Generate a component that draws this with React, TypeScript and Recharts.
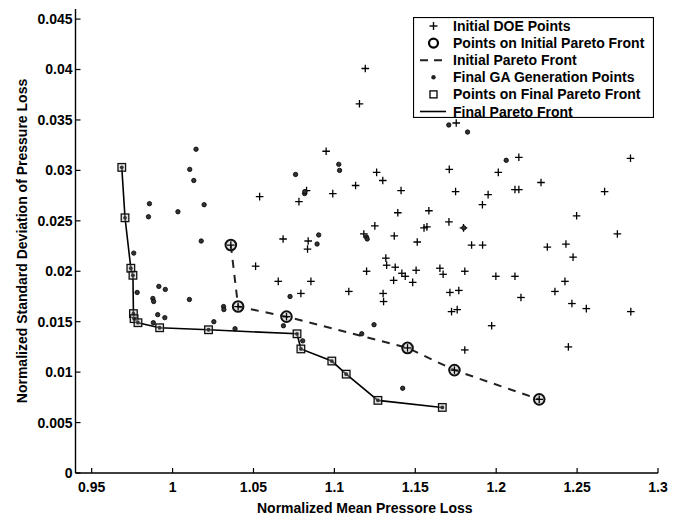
import React from 'react';
import { ScatterChart, Scatter, XAxis, YAxis, Label } from 'recharts';

const FONT = '"Liberation Sans", Arial, Helvetica, sans-serif';

const xTicks = [0.95, 1, 1.05, 1.1, 1.15, 1.2, 1.25, 1.3];
const yTicks = [0, 0.005, 0.01, 0.015, 0.02, 0.025, 0.03, 0.035, 0.04, 0.045];
const xDomain = [0.94, 1.3];
const yDomain = [0, 0.046];

const xLabel = 'Normalized Mean Pressore Loss';
const yLabel = 'Normalized Standard Deviation of Pressure Loss';

const legendLabels = [
  'Initial DOE Points',
  'Points on Initial Pareto Front',
  'Initial Pareto Front',
  'Final GA Generation Points',
  'Points on Final Pareto Front',
  'Final Pareto Front',
];

// Initial DOE points (+)
const doePoints: [number, number][] = [
  [1.1191, 0.0401], [1.1155, 0.0366], [1.0949, 0.0319], [1.2140, 0.0313], [1.2830, 0.0312],
  [1.1710, 0.0301], [1.2013, 0.0298], [1.1261, 0.0298], [1.1299, 0.0290], [1.2277, 0.0288],
  [1.1131, 0.0285], [1.1412, 0.0280], [1.1749, 0.0279], [1.2116, 0.0281], [1.2140, 0.0281],
  [1.0828, 0.0280], [1.0990, 0.0277], [1.0781, 0.0269], [1.1950, 0.0276], [1.1915, 0.0266],
  [1.2670, 0.0279], [1.0538, 0.0274], [1.1584, 0.0260], [1.1392, 0.0258], [1.2497, 0.0255],
  [1.1250, 0.0245], [1.1708, 0.0249], [1.1554, 0.0243], [1.1572, 0.0244], [1.1798, 0.0243],
  [1.1182, 0.0237], [1.1370, 0.0235], [1.2749, 0.0237], [1.0683, 0.0232], [1.0838, 0.0230],
  [1.0834, 0.0222], [1.1512, 0.0229], [1.1848, 0.0226], [1.1916, 0.0226], [1.2431, 0.0227],
  [1.2316, 0.0224], [1.2475, 0.0214], [1.1318, 0.0213], [1.1323, 0.0206], [1.1376, 0.0204],
  [1.0513, 0.0205], [1.1417, 0.0198], [1.1438, 0.0195], [1.1505, 0.0201], [1.1652, 0.0203],
  [1.1672, 0.0197], [1.1199, 0.0200], [1.1806, 0.0200], [1.1366, 0.0191], [1.1484, 0.0189],
  [1.1998, 0.0195], [1.2116, 0.0195], [1.2425, 0.0190], [1.0653, 0.0190], [1.0855, 0.0190],
  [1.1089, 0.0180], [1.0793, 0.0178], [1.1301, 0.0178], [1.1304, 0.0170], [1.1714, 0.0179],
  [1.1769, 0.0181], [1.2363, 0.0180], [1.2153, 0.0174], [1.2468, 0.0168], [1.2557, 0.0163],
  [1.2832, 0.0160], [1.1724, 0.0160], [1.1759, 0.0162], [1.1972, 0.0146], [1.1806, 0.0122],
  [1.2446, 0.0125], [1.1753, 0.0347],
];

// Points on initial Pareto front (O), also DOE points
const initialFront: [number, number][] = [
  [1.0360, 0.0226], [1.0405, 0.0165], [1.0704, 0.0155], [1.1452, 0.0124], [1.1742, 0.0102], [1.2266, 0.0073],
];

// Final GA generation points (.)
const gaPoints: [number, number][] = [
  [1.0145, 0.0321], [1.0106, 0.0301], [1.0131, 0.0290], [0.9857, 0.0267], [0.9851, 0.0254],
  [1.0033, 0.0259], [1.0195, 0.0266], [1.0177, 0.0230], [0.9760, 0.0218], [0.9781, 0.0179],
  [0.9915, 0.0185], [0.9955, 0.0182], [0.9878, 0.0173], [0.9883, 0.0170], [1.0104, 0.0172],
  [0.9908, 0.0157], [0.9952, 0.0154], [0.9881, 0.0149], [1.0315, 0.0165], [1.0317, 0.0162],
  [1.0255, 0.0150], [1.0386, 0.0143], [1.0726, 0.0175], [1.0760, 0.0296], [1.0816, 0.0277],
  [1.0818, 0.0279], [1.0903, 0.0236], [1.0893, 0.0227], [1.1027, 0.0306], [1.1032, 0.0300],
  [1.0685, 0.0146], [1.0804, 0.0131], [1.1169, 0.0138], [1.1245, 0.0147], [1.1422, 0.0084],
  [1.1198, 0.0234], [1.1203, 0.0232], [1.2062, 0.0310], [1.1707, 0.0345], [1.1823, 0.0338],
  [1.1800, 0.0243],
];

// Points on final Pareto front (square), also GA points
const finalFront: [number, number][] = [
  [0.9686, 0.0303], [0.9706, 0.0253], [0.9742, 0.0203], [0.9755, 0.0196], [0.9758, 0.0158],
  [0.9762, 0.0153], [0.9786, 0.0149], [0.9920, 0.0144], [1.0222, 0.0142], [1.0769, 0.0138],
  [1.0793, 0.0123], [1.0984, 0.0111], [1.1073, 0.0098], [1.1269, 0.0072], [1.1667, 0.0065],
];

const toXY = (arr: [number, number][]) => arr.map(([x, y]) => ({ x, y }));

const Plus = ({ cx, cy }: any) => (
  <g stroke="#000" strokeWidth={1.3}>
    <line x1={cx - 3.8} y1={cy} x2={cx + 3.8} y2={cy} />
    <line x1={cx} y1={cy - 3.8} x2={cx} y2={cy + 3.8} />
  </g>
);

const CircleMark = ({ cx, cy }: any) => (
  <g>
    <circle cx={cx} cy={cy} r={5.3} fill="#aaa" fillOpacity={0.35} stroke="#111" strokeWidth={2} />
    <Plus cx={cx} cy={cy} />
  </g>
);

const Dot = ({ cx, cy }: any) => (
  <circle cx={cx} cy={cy} r={2.2} fill="#333" stroke="#000" strokeWidth={0.8} />
);

const SquareMark = ({ cx, cy }: any) => (
  <g>
    <rect x={cx - 3.8} y={cy - 3.8} width={7.6} height={7.6} fill="#bbb" fillOpacity={0.4} stroke="#111" strokeWidth={1.3} />
    <circle cx={cx} cy={cy} r={1.9} fill="#333" />
  </g>
);

const Nothing = () => <g />;

const LegendBox = () => {
  const W = 241;
  const H = 101;
  const rowY = (i: number) => 9 + i * 17.1;
  const sx = 20.5;
  return (
    <svg width={W} height={H} style={{ position: 'absolute', left: 413, top: 17, display: 'block' }}>
      <rect x={0.5} y={0.5} width={W - 1} height={H - 1} fill="#fff" stroke="#000" strokeWidth={1.2} />
      <g stroke="#000" strokeWidth={1.4}>
        <line x1={sx - 4} y1={rowY(0)} x2={sx + 4} y2={rowY(0)} />
        <line x1={sx} y1={rowY(0) - 4} x2={sx} y2={rowY(0) + 4} />
      </g>
      <circle cx={sx} cy={rowY(1)} r={4.5} fill="none" stroke="#000" strokeWidth={2.2} />
      <line x1={7} y1={rowY(2)} x2={33} y2={rowY(2)} stroke="#222" strokeWidth={2} strokeDasharray="8 6" />
      <circle cx={sx} cy={rowY(3)} r={2.2} fill="#222" />
      <rect x={sx - 3.5} y={rowY(4) - 3.5} width={7} height={7} fill="none" stroke="#000" strokeWidth={1.3} />
      <line x1={7} y1={rowY(5)} x2={33} y2={rowY(5)} stroke="#000" strokeWidth={1.6} />
      {legendLabels.map((t, i) => (
        <text key={t} x={40} y={rowY(i)} dominantBaseline="central" fontFamily={FONT} fontWeight="bold" fontSize={14} fill="#000">
          {t}
        </text>
      ))}
    </svg>
  );
};

const YLabelContent = (props: any) => {
  const vb = props.viewBox || { x: 0, y: 9, width: 76, height: 464 };
  const cy = vb.y + vb.height / 2;
  const cx = 22;
  return (
    <text x={cx} y={cy} transform={`rotate(-90, ${cx}, ${cy})`} textAnchor="middle" dominantBaseline="central"
      fontFamily={FONT} fontWeight="bold" fontSize={14} fill="#000">
      {yLabel}
    </text>
  );
};

const XLabelContent = (props: any) => {
  const vb = props.viewBox || { x: 76, y: 473, width: 582, height: 44 };
  const cx = vb.x + vb.width / 2 - 2;
  return (
    <text x={cx} y={508} textAnchor="middle" dominantBaseline="central"
      fontFamily={FONT} fontWeight="bold" fontSize={14} fill="#000">
      {xLabel}
    </text>
  );
};

const tickStyle = { fontFamily: FONT, fontWeight: 'bold', fontSize: 14, fill: '#000' } as any;
const blank = () => '';

export default function App() {
  return (
    <div style={{ position: 'absolute', left: 0, top: 0, width: 682, height: 517, background: '#fff' }}>
      <ScatterChart width={682} height={517} margin={{ top: 9, right: 24, bottom: 0, left: 0 }}>
        <XAxis xAxisId={0} type="number" dataKey="x" domain={xDomain} ticks={xTicks} allowDataOverflow
          orientation="bottom" height={44} tickSize={-5} tickMargin={14} tick={tickStyle}
          axisLine={{ stroke: '#000', strokeWidth: 1.4 }} tickLine={{ stroke: '#000', strokeWidth: 1.2 }} interval={0}>
          <Label content={XLabelContent} />
        </XAxis>
        <XAxis xAxisId="top" type="number" dataKey="x" domain={xDomain} ticks={xTicks} allowDataOverflow
          orientation="top" height={0} tickSize={-5} tickFormatter={blank} tick={tickStyle}
          axisLine={{ stroke: '#000', strokeWidth: 1.4 }} tickLine={{ stroke: '#000', strokeWidth: 1.2 }} interval={0} />
        <YAxis yAxisId={0} type="number" dataKey="y" domain={yDomain} ticks={yTicks} allowDataOverflow
          orientation="left" width={75.5} tickSize={-5} tickMargin={8} tick={tickStyle}
          axisLine={{ stroke: '#000', strokeWidth: 1.4 }} tickLine={{ stroke: '#000', strokeWidth: 1.2 }} interval={0}>
          <Label content={YLabelContent} />
        </YAxis>
        <YAxis yAxisId="right" type="number" dataKey="y" domain={yDomain} ticks={yTicks} allowDataOverflow
          orientation="right" width={0} tickSize={-5} tickFormatter={blank} tick={tickStyle}
          axisLine={{ stroke: '#000', strokeWidth: 1.4 }} tickLine={{ stroke: '#000', strokeWidth: 1.2 }} interval={0} />
        <Scatter xAxisId="top" yAxisId="right" data={toXY(finalFront)} shape={Nothing} isAnimationActive={false} legendType="none" />
        <Scatter name="Initial DOE Points" data={toXY(doePoints)} shape={Plus} isAnimationActive={false} />
        <Scatter name="Initial Pareto Front" data={toXY(initialFront)} shape={CircleMark}
          line={{ stroke: '#222', strokeWidth: 2, strokeDasharray: '8 7' }} isAnimationActive={false} />
        <Scatter name="Final GA Generation Points" data={toXY(gaPoints)} shape={Dot} isAnimationActive={false} />
        <Scatter name="Final Pareto Front" data={toXY(finalFront)} shape={SquareMark}
          line={{ stroke: '#000', strokeWidth: 1.6 }} isAnimationActive={false} />
      </ScatterChart>
      <LegendBox />
    </div>
  );
}
